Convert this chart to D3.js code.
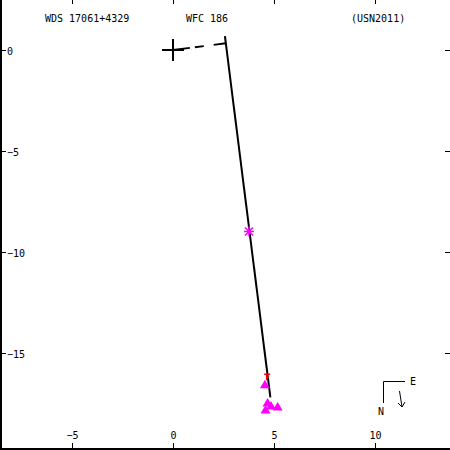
<!DOCTYPE html>
<html>
<head>
<meta charset="utf-8">
<script src="https://cdn.jsdelivr.net/npm/d3@7"></script>
<style>
  body { margin: 0; background: #fff; }
  svg { display: block; }
  text { font-family: "DejaVu Sans Mono", monospace; font-size: 10px; fill: #000; }
</style>
</head>
<body>
<script>
var width = 450, height = 450;

// tick values
var xTicks = [-5, 0, 5, 10];
var yTicks = [0, -5, -10, -15];

// fitted line (two ends) and the primary
var fitLine = [[2.57, 0.69], [4.82, -17.2]];
var primary = [0, 0];

// measurements
var asterisks = [[3.76, -8.99]];
var redF = [[4.66, -16.2]];
var triangles = [[4.55, -16.55], [4.68, -17.45], [4.85, -17.6], [5.18, -17.65], [4.58, -17.8]];

var titles = ["WDS 17061+4329", "WFC 186", "(USN2011)"];

var x = d3.scaleLinear().domain([-8.565, 13.663]).range([0, 449]);
var y = d3.scaleLinear().domain([2.475, -19.753]).range([0, 449]);

var svg = d3.select("body").append("svg")
  .attr("width", width)
  .attr("height", height);

// frame: left + bottom only
svg.append("line").attr("x1", 1).attr("y1", 0).attr("x2", 1).attr("y2", 450)
  .attr("stroke", "#000").attr("stroke-width", 2);
svg.append("line").attr("x1", 0).attr("y1", 449).attr("x2", 450).attr("y2", 449)
  .attr("stroke", "#000").attr("stroke-width", 2);

// x ticks, top and bottom
xTicks.forEach(function(v) {
  var px = Math.round(x(v)) + 0.5;
  svg.append("line").attr("x1", px).attr("x2", px).attr("y1", 0).attr("y2", 4).attr("stroke", "#000");
  svg.append("line").attr("x1", px).attr("x2", px).attr("y1", 443).attr("y2", 449).attr("stroke", "#000");
  svg.append("text").attr("x", px).attr("y", 439).attr("text-anchor", "middle")
    .text(d3.format("")(v).replace("-", "\u2212"));
});

// y ticks, left and right
yTicks.forEach(function(v) {
  var py = Math.round(y(v)) + 0.5;
  svg.append("line").attr("x1", 0).attr("x2", 6).attr("y1", py).attr("y2", py).attr("stroke", "#000");
  svg.append("line").attr("x1", 445).attr("x2", 450).attr("y1", py).attr("y2", py).attr("stroke", "#000");
  svg.append("text").attr("x", 7).attr("y", py + 4)
    .text(d3.format("")(v).replace("-", "\u2212"));
});

// titles
svg.append("text").attr("x", 45).attr("y", 22).text(titles[0]);
svg.append("text").attr("x", 186).attr("y", 22).text(titles[1]);
svg.append("text").attr("x", 351).attr("y", 22).text(titles[2]);

// primary cross
svg.append("path")
  .attr("d", "M" + (x(primary[0]) - 11) + "," + y(primary[1]) + "h22M" + x(primary[0]) + "," + (y(primary[1]) - 11) + "v22")
  .attr("stroke", "#000").attr("stroke-width", 2);

// perpendicular from primary to the fitted line (dashed)
var p1 = [x(fitLine[0][0]), y(fitLine[0][1])], p2 = [x(fitLine[1][0]), y(fitLine[1][1])];
var o = [x(primary[0]), y(primary[1])];
var dx = p2[0] - p1[0], dy = p2[1] - p1[1];
var t = ((o[0] - p1[0]) * dx + (o[1] - p1[1]) * dy) / (dx * dx + dy * dy);
var foot = [p1[0] + t * dx, p1[1] + t * dy];
svg.append("line").attr("x1", o[0]).attr("y1", o[1]).attr("x2", foot[0]).attr("y2", foot[1])
  .attr("stroke", "#000").attr("stroke-width", 2).attr("stroke-dasharray", "17,5,9,10,13");

// fitted line
svg.append("line")
  .attr("x1", p1[0]).attr("y1", p1[1]).attr("x2", p2[0]).attr("y2", p2[1])
  .attr("stroke", "#000").attr("stroke-width", 2);

// magenta asterisk
svg.selectAll(".ast").data(asterisks).enter().append("path")
  .attr("class", "ast")
  .attr("transform", function(d) { return "translate(" + x(d[0]) + "," + y(d[1]) + ")"; })
  .attr("d", "M-5,0H5M0,-5V5M-4,-4L4,4M-4,4L4,-4")
  .attr("stroke", "#ff00ff").attr("stroke-width", 1.5);

// red F marker
svg.selectAll(".rf").data(redF).enter().append("path")
  .attr("class", "rf")
  .attr("transform", function(d) { return "translate(" + x(d[0]) + "," + y(d[1]) + ")"; })
  .attr("d", "M-3,-3H3M-0.5,-3V3M-0.5,0H2")
  .attr("fill", "none").attr("stroke", "#ff0000").attr("stroke-width", 1.5);

// magenta triangles
svg.selectAll(".tri").data(triangles).enter().append("path")
  .attr("class", "tri")
  .attr("transform", function(d) { return "translate(" + x(d[0]) + "," + y(d[1]) + ")"; })
  .attr("d", "M0,-4.5L5,4L-5,4Z")
  .attr("fill", "#ff00ff");

// compass
svg.append("path").attr("d", "M383.5,403V381.5H405").attr("fill", "none").attr("stroke", "#000");
svg.append("text").attr("x", 410).attr("y", 385).text("E");
svg.append("text").attr("x", 378).attr("y", 415).text("N");
svg.append("path").attr("d", "M399.5,391L402,407M398,403L402,407L405,402").attr("fill", "none").attr("stroke", "#000");
</script>
</body>
</html>
